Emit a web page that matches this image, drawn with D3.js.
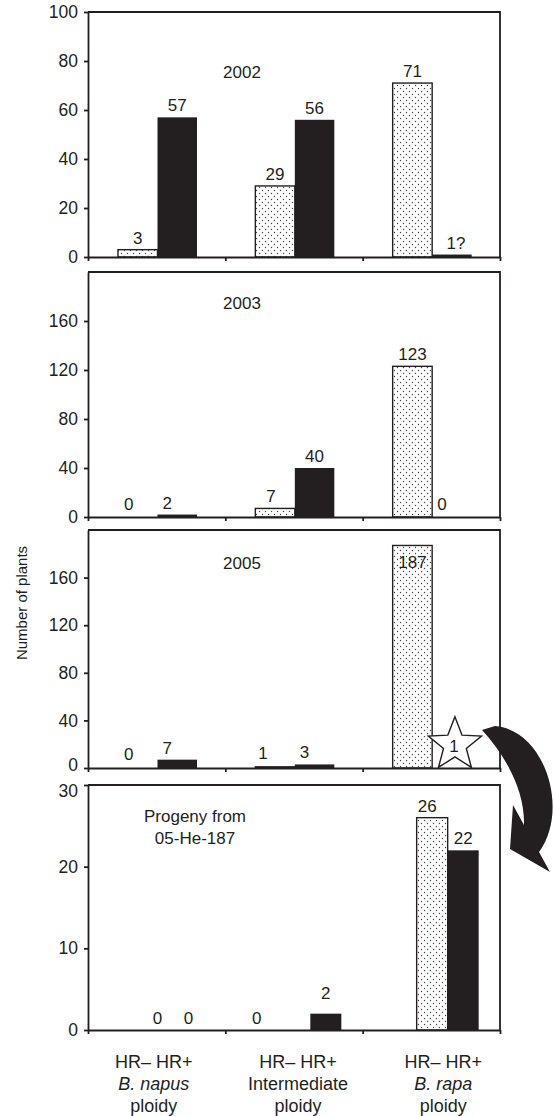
<!DOCTYPE html>
<html>
<head>
<meta charset="utf-8">
<script src="https://cdn.jsdelivr.net/npm/d3@7"></script>
<style>
  body { margin: 0; background: #fff; }
  svg text { font-family: "Liberation Sans", Arial, Helvetica, sans-serif; fill: #231f20; }
  .axis path, .axis line { stroke: #231f20; stroke-width: 1.8; }
  .axis text { font-size: 17.5px; }
</style>
</head>
<body>
<svg id="chart" width="553" height="1116"></svg>
<script>
const categories = ['napus', 'intermediate', 'rapa'];
const series = ['HR-', 'HR+'];

const hrMinus2002 = [3, 29, 71];
const hrPlus2002 = [57, 56, 1];
const hrMinus2003 = [0, 7, 123];
const hrPlus2003 = [2, 40, 0];
const hrMinus2005 = [0, 1, 187];
const hrPlus2005 = [7, 3, 1];
const hrMinusProgeny = [0, 0, 26];
const hrPlusProgeny = [0, 2, 22];

const plusLabels2002 = ['57', '56', '1?'];

const ticks2002 = [0, 20, 40, 60, 80, 100];
const ticks2003 = [0, 40, 80, 120, 160];
const ticks2005 = [0, 40, 80, 120, 160];
const ticksProgeny = [0, 10, 20, 30];

const panelTitles = [['2002'], ['2003'], ['2005'], ['Progeny from', '05-He-187']];
const categoryLines = [
  ['HR\u2013 HR+', 'B. napus', 'ploidy'],
  ['HR\u2013 HR+', 'Intermediate', 'ploidy'],
  ['HR\u2013 HR+', 'B. rapa', 'ploidy']
];
const yAxisTitle = 'Number of plants';

const ink = '#231f20';
const svg = d3.select('#chart');

// dotted fill for the HR- bars
const defs = svg.append('defs');
const pat = defs.append('pattern')
  .attr('id', 'dots').attr('patternUnits', 'userSpaceOnUse')
  .attr('width', 6).attr('height', 6);
pat.append('rect').attr('width', 6).attr('height', 6).attr('fill', '#fff');
pat.append('circle').attr('cx', 1.5).attr('cy', 1.5).attr('r', 0.7).attr('fill', '#444');
pat.append('circle').attr('cx', 4.5).attr('cy', 4.5).attr('r', 0.7).attr('fill', '#444');

const left = 88, right = 500;

const panels = [
  { top: 12, bottom: 257, max: 100, ticks: ticks2002, minus: hrMinus2002, plus: hrPlus2002,
    plusLabels: plusLabels2002, barRange: [30, 109], titleX: 242, titleY: 78,
    nudge: { 'HR+2': [4, 0] } },
  { top: 272, bottom: 517, max: 200, ticks: ticks2003, minus: hrMinus2003, plus: hrPlus2003,
    barRange: [30, 109], titleX: 242, titleY: 309,
    nudge: { 'HR-0': [-9, -1], 'HR+0': [-10, 0], 'HR-1': [-4, 0], 'HR+2': [-10, -1] } },
  { top: 530, bottom: 768, max: 200, ticks: ticks2005, minus: hrMinus2005, plus: hrPlus2005,
    barRange: [30, 109], titleX: 242, titleY: 569, star: 2, zeroLabelDy: -3,
    nudge: { 'HR-0': [-9, -2], 'HR+0': [-10, 0], 'HR-1': [-12, -2], 'HR+1': [-10, 0], 'HR-2': [0, 29] } },
  { top: 785, bottom: 1030, max: 30, ticks: ticksProgeny, minus: hrMinusProgeny, plus: hrPlusProgeny,
    barRange: [54, 116], titleX: 195, titleY: 822, topLabelDy: 6,
    nudge: { 'HR-1': [-38, 0], 'HR+1': [0, -9], 'HR-2': [-5, 0] } }
];

const x0 = d3.scaleBand().domain(categories).range([left, right]).paddingInner(0).paddingOuter(0);
const xEdge = d3.scaleLinear().domain([0, categories.length]).range([left, right]);

panels.forEach((p, pi) => {
  const g = svg.append('g');
  const y = d3.scaleLinear().domain([0, p.max]).range([p.bottom, p.top]);
  const x1 = d3.scaleBand().domain(series).range(p.barRange).paddingInner(0).paddingOuter(0);

  const rows = [];
  categories.forEach((c, i) => {
    rows.push({ cat: c, i, s: 'HR-', v: p.minus[i], label: String(p.minus[i]) });
    rows.push({ cat: c, i, s: 'HR+', v: p.plus[i],
      label: p.plusLabels ? p.plusLabels[i] : String(p.plus[i]) });
  });
  const nud = d => p.nudge[d.s + d.i] || [0, 0];

  // bars
  g.selectAll('rect.bar')
    .data(rows.filter(d => d.v > 0 && !(p.star === d.i && d.s === 'HR+')))
    .enter().append('rect')
      .attr('class', 'bar')
      .attr('x', d => x0(d.cat) + x1(d.s))
      .attr('width', x1.bandwidth())
      .attr('y', d => y(d.v))
      .attr('height', d => y(0) - y(d.v))
      .attr('fill', d => d.s === 'HR-' ? 'url(#dots)' : ink)
      .attr('stroke', ink)
      .attr('stroke-width', d => d.s === 'HR-' ? 1.4 : 0);

  // value labels
  g.selectAll('text.val')
    .data(rows.filter(d => !(p.star === d.i && d.s === 'HR+')))
    .enter().append('text')
      .attr('class', 'val')
      .attr('text-anchor', 'middle')
      .attr('font-size', 17)
      .attr('x', d => x0(d.cat) + x1(d.s) + x1.bandwidth() / 2 + nud(d)[0])
      .attr('y', d => y(d.v) - 6 + nud(d)[1])
      .text(d => d.label);

  // axes
  g.append('g').attr('class', 'axis')
    .attr('transform', `translate(${left},0)`)
    .call(d3.axisLeft(y).tickValues(p.ticks).tickSize(4).tickSizeOuter(0).tickPadding(6))
    .call(a => a.selectAll('text').attr('fill', ink))
    .call(a => a.selectAll('.tick text')
      .filter(v => v === p.max && p.topLabelDy)
      .attr('transform', `translate(0,${p.topLabelDy})`))
    .call(a => a.selectAll('.tick text')
      .filter(v => v === 0 && p.zeroLabelDy)
      .attr('transform', `translate(0,${p.zeroLabelDy})`));

  g.append('g').attr('class', 'axis')
    .attr('transform', `translate(0,${p.bottom})`)
    .call(d3.axisBottom(xEdge).tickValues(d3.range(categories.length + 1))
      .tickFormat('').tickSize(4).tickSizeOuter(0));

  g.append('path')
    .attr('d', `M${left},${p.top}H${right}V${p.bottom}`)
    .attr('fill', 'none').attr('stroke', ink).attr('stroke-width', 1.8);

  // panel title
  const t = g.append('text')
    .attr('text-anchor', 'middle').attr('font-size', 17)
    .attr('x', p.titleX).attr('y', p.titleY);
  panelTitles[pi].forEach((s, k) => {
    t.append('tspan').attr('x', p.titleX).attr('dy', k === 0 ? 0 : 22).text(s);
  });

  // star for the single HR+ plant of 2005
  if (p.star !== undefined) {
    const cat = categories[p.star];
    const cx = x0(cat) + x1('HR+') + x1.bandwidth() / 2 + 3;
    const cy = y(p.plus[p.star]) - 22;
    const R = 28, r = 12;
    const pts = d3.range(10).map(k => {
      const a = -Math.PI / 2 + k * Math.PI / 5;
      const rad = k % 2 === 0 ? R : r;
      return [cx + rad * Math.cos(a), cy + rad * Math.sin(a)];
    });
    g.append('path')
      .attr('d', d3.line()(pts) + 'Z')
      .attr('fill', '#fff').attr('stroke', ink).attr('stroke-width', 1.4);
    g.append('text')
      .attr('text-anchor', 'middle').attr('font-size', 17)
      .attr('x', cx - 1).attr('y', cy + 7)
      .text(p.plus[p.star]);
  }
});

// curved arrow from the starred plant to its progeny
svg.append('path')
  .attr('d', 'M482,730 L495,726 C545,730 570,810 539,852 L550,872 L510,849 L513,805 L524,825 C525,790 505,755 482,730 Z')
  .attr('fill', ink);

// y axis title
svg.append('text')
  .attr('transform', 'translate(27,603) rotate(-90)')
  .attr('text-anchor', 'middle').attr('font-size', 15)
  .text(yAxisTitle);

// category labels under the last panel
const lab = svg.append('g');
const labNudge = [-3, 4, 12];
categoryLines.forEach((lines, i) => {
  const cx = x0(categories[i]) + x0.bandwidth() / 2 + labNudge[i];
  lines.forEach((s, k) => {
    lab.append('text')
      .attr('text-anchor', 'middle').attr('font-size', 18)
      .attr('font-style', k === 1 && i !== 1 ? 'italic' : 'normal')
      .attr('x', cx).attr('y', 1068 + k * 22)
      .text(s);
  });
});
</script>
</body>
</html>
